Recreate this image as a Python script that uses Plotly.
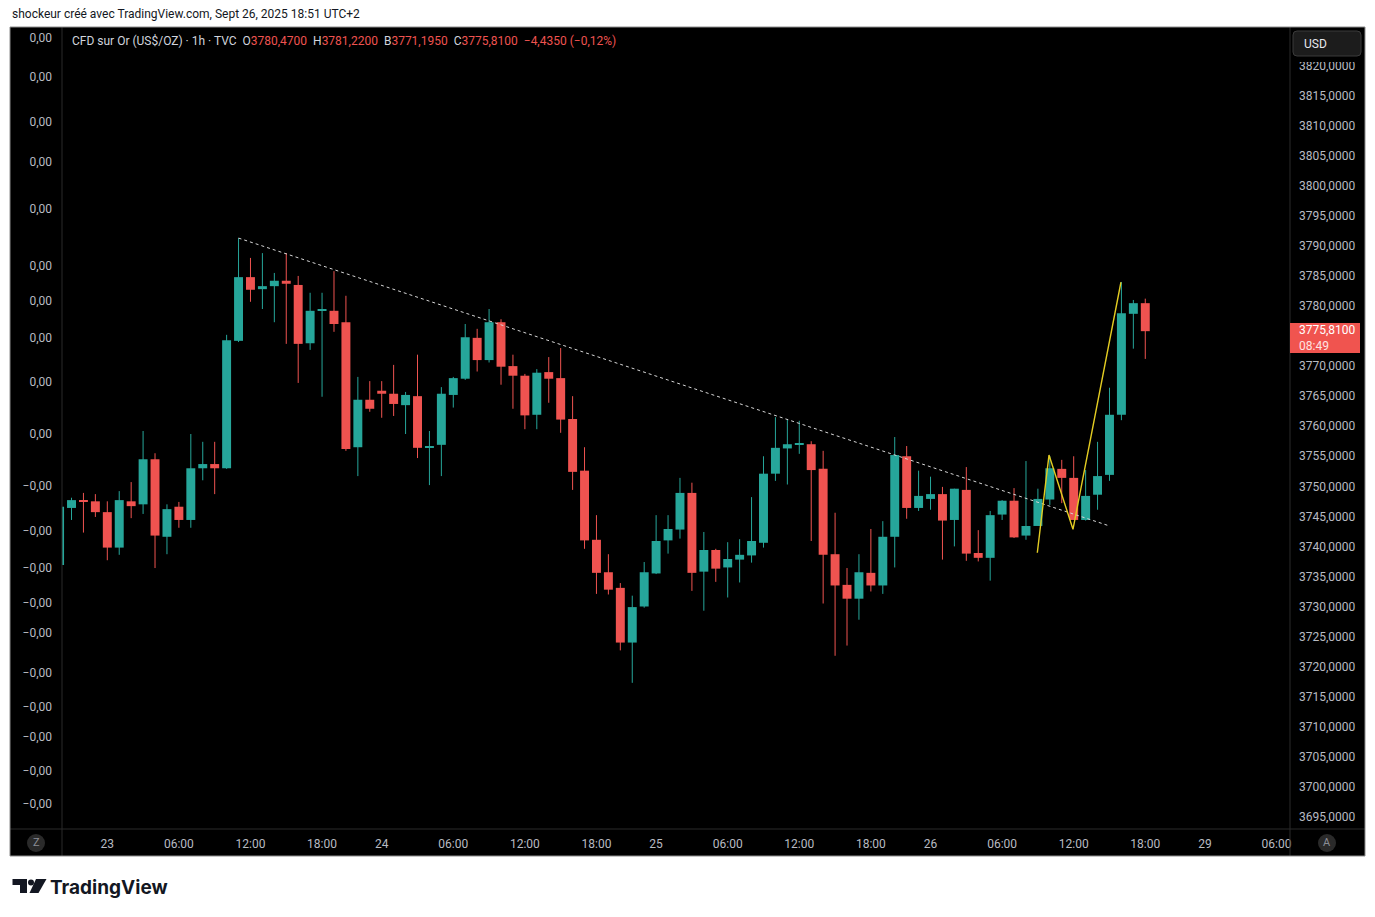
import plotly.graph_objects as go

# ---------------- DATA ----------------
open_ = [3736.9, 3746.4, 3747.6, 3747.5, 3745.7, 3739.8, 3747.5, 3747.0, 3754.5, 3741.6,
         3746.6, 3744.4, 3753.0, 3753.7, 3753.0, 3774.2, 3784.8, 3782.8, 3783.3, 3784.2,
         3783.5, 3773.8, 3779.2, 3779.2, 3777.3, 3756.5, 3764.4, 3765.9, 3765.4, 3763.5,
         3765.0, 3756.5, 3756.9, 3765.2, 3767.9, 3774.7, 3771.0, 3777.3, 3770.0, 3768.4,
         3761.9, 3769.0, 3768.0, 3761.2, 3752.6, 3741.1, 3735.7, 3733.1, 3724.0, 3730.0,
         3735.5, 3741.0, 3742.8, 3748.9, 3735.8, 3739.4, 3736.5, 3737.8, 3738.5, 3740.6,
         3752.1, 3756.3, 3756.95, 3757.0, 3752.9, 3738.7, 3733.6, 3731.3, 3735.6, 3733.5,
         3741.6, 3755.0, 3746.4, 3747.9, 3748.7, 3744.4, 3749.4, 3738.9, 3738.1, 3745.3,
         3747.6, 3741.8, 3743.4, 3747.8, 3752.9, 3751.4, 3744.4, 3748.6, 3751.9, 3761.9,
         3778.7, 3780.47]
high = [3746.8, 3748.1, 3748.9, 3748.7, 3747.5, 3749.2, 3750.7, 3759.2, 3755.5, 3747.0,
        3747.4, 3758.7, 3757.4, 3757.4, 3775.2, 3791.3, 3788.0, 3788.8, 3785.5, 3788.8,
        3785.0, 3782.2, 3782.2, 3785.8, 3781.7, 3768.2, 3767.5, 3767.5, 3770.2, 3765.7,
        3771.9, 3759.2, 3766.5, 3768.2, 3777.0, 3776.2, 3779.5, 3777.8, 3771.9, 3768.7,
        3769.5, 3771.5, 3773.0, 3765.0, 3756.5, 3745.2, 3738.7, 3733.9, 3731.8, 3737.4,
        3745.2, 3745.2, 3751.4, 3750.6, 3742.4, 3739.6, 3740.7, 3741.2, 3748.2, 3755.0,
        3761.5, 3761.2, 3760.9, 3757.5, 3755.9, 3745.6, 3736.4, 3738.7, 3742.9, 3744.2,
        3758.2, 3756.7, 3752.6, 3751.6, 3749.9, 3749.6, 3753.2, 3742.7, 3745.9, 3747.7,
        3749.7, 3754.2, 3749.6, 3755.0, 3754.4, 3755.0, 3752.7, 3757.4, 3766.4, 3784.0,
        3781.0, 3781.22]
low = [3736.7, 3744.4, 3742.3, 3744.9, 3737.7, 3738.6, 3744.7, 3745.4, 3736.4, 3738.7,
       3743.1, 3743.1, 3751.0, 3748.7, 3752.9, 3774.0, 3780.7, 3779.5, 3777.3, 3773.7,
       3767.2, 3772.7, 3764.9, 3775.7, 3755.9, 3751.7, 3762.4, 3761.4, 3761.7, 3758.7,
       3754.7, 3750.2, 3751.7, 3763.1, 3767.7, 3769.1, 3770.6, 3766.9, 3762.9, 3759.5,
       3759.5, 3763.9, 3758.9, 3749.4, 3739.6, 3732.1, 3732.0, 3722.7, 3717.3, 3729.8,
       3735.4, 3738.8, 3741.3, 3732.6, 3729.3, 3734.1, 3731.5, 3734.0, 3737.3, 3739.8,
       3750.9, 3750.3, 3755.4, 3740.9, 3730.5, 3721.8, 3723.5, 3727.8, 3732.5, 3732.1,
       3736.5, 3744.6, 3745.9, 3746.1, 3737.8, 3740.0, 3737.6, 3737.5, 3734.3, 3744.4,
       3741.4, 3741.1, 3743.4, 3746.9, 3747.2, 3744.4, 3744.3, 3746.1, 3750.9, 3761.0,
       3772.9, 3771.195]
close = [3746.6, 3747.7, 3747.4, 3745.7, 3739.8, 3747.7, 3746.7, 3754.5, 3741.8, 3746.2,
         3744.4, 3753.0, 3753.7, 3753.0, 3774.3, 3784.8, 3782.7, 3783.3, 3784.2, 3783.7,
         3773.7, 3779.2, 3779.3, 3777.0, 3756.2, 3764.4, 3762.9, 3765.4, 3763.7, 3765.2,
         3756.4, 3756.6, 3765.4, 3768.0, 3774.8, 3771.0, 3777.3, 3769.9, 3768.4, 3761.8,
         3768.9, 3767.9, 3761.1, 3752.4, 3741.0, 3735.6, 3732.8, 3724.0, 3729.9, 3735.7,
         3740.9, 3742.9, 3748.9, 3735.6, 3739.4, 3736.3, 3737.9, 3738.6, 3740.9, 3752.1,
         3756.4, 3757.0, 3757.05, 3752.7, 3738.6, 3733.5, 3731.3, 3735.7, 3733.5, 3741.6,
         3755.2, 3746.4, 3748.4, 3748.7, 3744.3, 3749.6, 3738.8, 3738.1, 3745.2, 3747.6,
         3741.5, 3743.4, 3747.9, 3753.0, 3751.4, 3744.4, 3748.4, 3751.7, 3761.9, 3778.8,
         3780.47, 3775.81]

# bar-index positions of the time-axis labels (TradingView index axis)
time_tick_index = [4, 10, 16, 22, 27, 33, 39, 45, 50, 56, 62, 68, 73, 79, 85, 91, 96, 102]
time_tick_text = ["23", "06:00", "12:00", "18:00", "24", "06:00", "12:00", "18:00", "25",
                  "06:00", "12:00", "18:00", "26", "06:00", "12:00", "18:00", "29", "06:00"]

# price scale labels (3775 is hidden behind the last-price tag)
price_ticks = [3695, 3700, 3705, 3710, 3715, 3720, 3725, 3730, 3735, 3740, 3745, 3750, 3755,
               3760, 3765, 3770, 3780, 3785, 3790, 3795, 3800, 3805, 3810, 3815, 3820]
price_tick_text = [f"{v},0000" for v in price_ticks]

left_ticks = [3824.56, 3818.10, 3810.72, 3803.93, 3796.12, 3786.69, 3780.92, 3774.73, 3767.34,
              3758.69, 3750.02, 3742.63, 3736.44, 3730.67, 3725.57, 3719.03, 3713.26, 3708.25,
              3702.73, 3697.22]
left_tick_text = ["0,00"] * 10 + ["\u22120,00"] * 10

trend_index = [15, 87.85]
trend_price = [3791.3, 3743.5]
zigzag_index = [81.95, 82.93, 84.94, 88.96]
zigzag_price = [3738.95, 3755.2, 3742.85, 3783.95]

last_price_text = "3775,8100"
countdown_text = "08:49"

# ---------------- STYLE ----------------
W, H = 1375, 917
ML, MR, MT, MB = 62, 85, 27, 88
PW, PH = W - ML - MR, H - MT - MB
UP, DOWN = "#26a69a", "#ef5350"
TXT = "#b8bbc2"
FONT = "Roboto"


def px(xp):
    return (xp - ML) / PW


def py(yp):
    return (H - MB - yp) / PH


idx = list(range(len(open_)))
fig = go.Figure()

for color, cond in ((UP, lambda o, c: c >= o), (DOWN, lambda o, c: c < o)):
    wx, wy = [], []
    bx, bbase, bh = [], [], []
    for i in idx:
        o, c = open_[i], close[i]
        if cond(o, c):
            wx += [i, i, None]
            wy += [low[i], high[i], None]
            lo, hi = min(o, c), max(o, c)
            bx.append(i)
            bbase.append(lo)
            bh.append(max(hi - lo, 0.17))
    fig.add_trace(go.Scatter(x=wx, y=wy, mode="lines", line=dict(color=color, width=1),
                             hoverinfo="skip", showlegend=False))
    fig.add_trace(go.Bar(x=bx, y=bh, base=bbase, width=0.75,
                         marker=dict(color=color, line=dict(width=0)),
                         hoverinfo="skip", showlegend=False))

fig.add_trace(go.Scatter(x=trend_index, y=trend_price, mode="lines",
                         line=dict(color="#d6d6d6", width=1, dash="dot"),
                         hoverinfo="skip", showlegend=False))
fig.add_trace(go.Scatter(x=zigzag_index, y=zigzag_price, mode="lines",
                         line=dict(color="#e3cc22", width=1.4), hoverinfo="skip", showlegend=False))
fig.add_trace(go.Scatter(x=[None], y=[None], yaxis="y2", showlegend=False, hoverinfo="skip"))

yr = [3692.98, 3826.42]
fig.update_layout(
    width=W, height=H,
    margin=dict(l=ML, r=MR, t=MT, b=MB, pad=0),
    paper_bgcolor="white", plot_bgcolor="black",
    barmode="overlay", showlegend=False,
    font=dict(family=FONT, size=12, color=TXT),
    xaxis=dict(range=[0.203, 103.13], showgrid=False, zeroline=False, showline=False,
               tickmode="array", tickvals=time_tick_index, ticktext=time_tick_text,
               ticks="", ticklabelstandoff=6, tickfont=dict(family=FONT, size=12, color=TXT),
               fixedrange=True),
    yaxis=dict(range=yr, side="right", showgrid=False, zeroline=False, showline=False,
               tickmode="array", tickvals=price_ticks, ticktext=price_tick_text,
               ticks="", ticklabelstandoff=8, tickfont=dict(family=FONT, size=12, color=TXT)),
    yaxis2=dict(range=yr, side="left", overlaying="y", anchor="x", showgrid=False, zeroline=False,
                showline=False, tickmode="array", tickvals=left_ticks, ticktext=left_tick_text,
                ticks="", ticklabelstandoff=9, tickfont=dict(family=FONT, size=12, color=TXT)),
)

shapes = []
shapes.append(dict(type="rect", xref="paper", yref="paper", x0=px(10), x1=px(1365), y0=py(856), y1=py(27),
                   fillcolor="black", line=dict(width=0), layer="below"))
# area above the price scale (hides the top of the 3820 label, as in the reference)
shapes.append(dict(type="rect", xref="paper", yref="paper", x0=px(1291), x1=px(1364), y0=py(62), y1=py(28),
                   fillcolor="black", line=dict(width=0), layer="above"))
sep = "#2b2b2b"
shapes.append(dict(type="line", xref="paper", yref="paper", x0=px(62), x1=px(62), y0=py(856), y1=py(27),
                   line=dict(color=sep, width=1), layer="above"))
shapes.append(dict(type="line", xref="paper", yref="paper", x0=px(1290), x1=px(1290), y0=py(856), y1=py(27),
                   line=dict(color=sep, width=1), layer="above"))
shapes.append(dict(type="line", xref="paper", yref="paper", x0=px(10), x1=px(1365), y0=py(829), y1=py(829),
                   line=dict(color=sep, width=1), layer="above"))
shapes.append(dict(type="rect", xref="paper", yref="paper", x0=px(10), x1=px(1365), y0=py(856), y1=py(27),
                   line=dict(color="#8c8c8c", width=1), layer="above"))
x0, x1, y0, y1, r = 1293, 1361, 31, 56, 4
path = (f"M {px(x0 + r)},{py(y0)} L {px(x1 - r)},{py(y0)} Q {px(x1)},{py(y0)} {px(x1)},{py(y0 + r)} "
        f"L {px(x1)},{py(y1 - r)} Q {px(x1)},{py(y1)} {px(x1 - r)},{py(y1)} "
        f"L {px(x0 + r)},{py(y1)} Q {px(x0)},{py(y1)} {px(x0)},{py(y1 - r)} "
        f"L {px(x0)},{py(y0 + r)} Q {px(x0)},{py(y0)} {px(x0 + r)},{py(y0)} Z")
shapes.append(dict(type="path", xref="paper", yref="paper", path=path, fillcolor="#1c1c1c",
                   line=dict(color="#3b3b3b", width=1), layer="above"))
shapes.append(dict(type="rect", xref="paper", yref="paper", x0=px(1290), x1=px(1360), y0=py(353), y1=py(323),
                   fillcolor="#f0544f", line=dict(width=0), layer="above"))
for cx in (36, 1327):
    shapes.append(dict(type="circle", xref="paper", yref="paper", x0=px(cx - 9), x1=px(cx + 9),
                       y0=py(852), y1=py(834), fillcolor="#2a2a2a", line=dict(width=0), layer="above"))
shapes.append(dict(type="path", xref="paper", yref="paper",
                   path=f"M {px(12.5)},{py(879)} L {px(27)},{py(879)} L {px(27)},{py(893)} L {px(20)},{py(893)} "
                        f"L {px(20)},{py(885)} L {px(12.5)},{py(885)} Z",
                   fillcolor="#131722", line=dict(width=0), layer="above"))
shapes.append(dict(type="circle", xref="paper", yref="paper", x0=px(28), x1=px(34), y0=py(885.5), y1=py(879.5),
                   fillcolor="#131722", line=dict(width=0), layer="above"))
shapes.append(dict(type="path", xref="paper", yref="paper",
                   path=f"M {px(36)},{py(879)} L {px(46.5)},{py(879)} L {px(38.5)},{py(893)} L {px(29.5)},{py(893)} Z",
                   fillcolor="#131722", line=dict(width=0), layer="above"))
fig.update_layout(shapes=shapes)

ann = []
ann.append(dict(xref="paper", yref="paper", x=px(10), y=py(14), xanchor="left", yanchor="middle",
                text="shockeur créé avec TradingView.com, Sept 26, 2025 18:51 UTC+2", showarrow=False,
                font=dict(family=FONT, size=12, color="#131722")))
red = DOWN
legend_txt = ("CFD sur Or (US$/OZ) · 1h · TVC\u00a0\u00a0"
              f"O<span style='color:{red}'>3780,4700</span>\u00a0\u00a0"
              f"H<span style='color:{red}'>3781,2200</span>\u00a0\u00a0"
              f"B<span style='color:{red}'>3771,1950</span>\u00a0\u00a0"
              f"C<span style='color:{red}'>3775,8100</span>\u00a0\u00a0"
              f"<span style='color:{red}'>\u22124,4350 (\u22120,12%)</span>")
ann.append(dict(xref="paper", yref="paper", x=px(70), y=py(41), xanchor="left", yanchor="middle",
                text=legend_txt, showarrow=False, font=dict(family=FONT, size=12, color="#d1d4dc")))
ann.append(dict(xref="paper", yref="paper", x=px(1302), y=py(44), xanchor="left", yanchor="middle",
                text="USD", showarrow=False, font=dict(family=FONT, size=12, color="#e6e8ee")))
ann.append(dict(xref="paper", yref="paper", x=px(1297), y=py(338), xanchor="left", yanchor="middle",
                align="left", text=f"{last_price_text}<br><span style='color:#ffe3e1'>{countdown_text}</span>",
                showarrow=False, font=dict(family=FONT, size=12, color="white")))
for cx, t in ((36, "Z"), (1327, "A")):
    ann.append(dict(xref="paper", yref="paper", x=px(cx), y=py(843), xanchor="center", yanchor="middle",
                    text=t, showarrow=False, font=dict(family=FONT, size=11, color="#8a8d96")))
ann.append(dict(xref="paper", yref="paper", x=px(48), y=py(887), xanchor="left", yanchor="middle",
                text="<b>TradingView</b>", showarrow=False, font=dict(family="Inter", size=19, color="#131722")))
fig.update_layout(annotations=ann)

fig.write_html("out.html", include_plotlyjs=True, config={"displayModeBar": False},
               post_script="document.body.style.margin='0';document.body.style.overflow='hidden';")
